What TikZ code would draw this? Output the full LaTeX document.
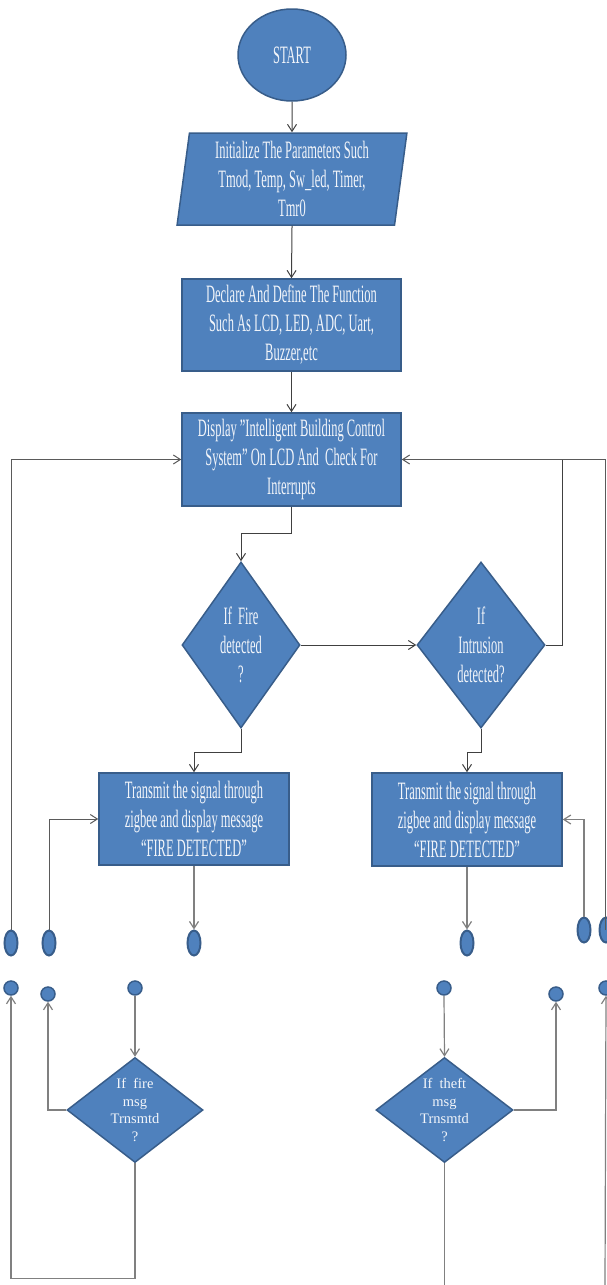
\documentclass[tikz,border=0pt]{standalone}
\usepackage{fontspec}
\setmainfont{Liberation Serif}
\newfontfamily\condfont[FakeStretch=0.5]{Liberation Serif}
\usetikzlibrary{shapes.geometric,arrows.meta}
\definecolor{fillblue}{HTML}{4F81BD}
\definecolor{edgeblue}{HTML}{385D8A}
\definecolor{darkline}{HTML}{404040}
\definecolor{midline}{HTML}{5A5A5A}
\definecolor{grayline}{HTML}{808080}
\definecolor{txtcol}{HTML}{F2F5FA}
\begin{document}
\begin{tikzpicture}[x=1pt,y=-1pt,
  shapebase/.style={fill=fillblue,draw=edgeblue,line width=1.5pt,inner sep=0pt,text=txtcol,align=center},
  bigtxt/.style={font=\condfont\fontsize{25}{29}\selectfont},
  smalltxt/.style={font=\fontsize{14.5}{17.4}\selectfont},
  procbox/.style={shapebase,rectangle,bigtxt},
  decide/.style={shapebase,diamond},
  oval/.style={shapebase,ellipse,line width=2pt,minimum width=13pt,minimum height=25pt},
  dot/.style={shapebase,circle,line width=1.5pt,minimum size=14pt},
  tip/.style={-{Straight Barb[length=7pt,width=9pt]}},
  darr/.style={draw=darkline,line width=1pt,tip},
  marr/.style={draw=midline,line width=1pt,tip},
  garr/.style={draw=grayline,line width=1.2pt,tip},
  dline/.style={draw=darkline,line width=1pt},
  gline/.style={draw=grayline,line width=1.2pt},
]
\useasboundingbox (0,0) rectangle (606,1285);

% main column
\node[shapebase,ellipse,bigtxt,minimum width=108pt,minimum height=92pt] (start) at (292,55) {START};
\node[shapebase,trapezium,trapezium left angle=83,trapezium right angle=97,trapezium stretches=true,
      minimum width=230pt,minimum height=92pt,bigtxt] (init) at (292,179)
      {Initialize The Parameters Such\\Tmod, Temp, Sw\_led, Timer,\\Tmr0};
\node[procbox,minimum width=219pt,minimum height=92pt] (decl) at (291.5,325)
      {Declare And Define The Function\\Such As LCD, LED, ADC, Uart,\\Buzzer,etc};
\node[procbox,minimum width=219pt,minimum height=93pt] (disp) at (291.5,459.5)
      {Display ”Intelligent Building Control\\System” On LCD And\ \ Check For\\Interrupts};

% decisions
\node[decide,minimum width=118pt,minimum height=166pt,
      label={[bigtxt,text=txtcol,align=center]center:If\ \ Fire\\detected\\?}] (fire) at (241,645) {};
\node[decide,minimum width=128pt,minimum height=166pt,
      label={[bigtxt,text=txtcol,align=center]center:If\\Intrusion\\detected?}] (intr) at (481,645) {};

% transmit boxes
\node[procbox,minimum width=190pt,minimum height=92pt] (tx1) at (194,819)
      {Transmit the signal through\\zigbee and display message\\“FIRE DETECTED”};
\node[procbox,minimum width=190pt,minimum height=93pt] (tx2) at (467,819.5)
      {Transmit the signal through\\zigbee and display message\\“FIRE DETECTED”};

% connector ovals
\node[oval] (e1) at (11,943) {};
\node[oval] (e2) at (49,943) {};
\node[oval] (e3) at (194,943) {};
\node[oval] (e4) at (467,943) {};
\node[oval] (e5) at (584,930) {};
\node[oval] (e6) at (606,930) {};

% connector circles
\node[dot] (c1) at (11,988) {};
\node[dot] (c2) at (48,994) {};
\node[dot] (c3) at (135,988) {};
\node[dot] (c4) at (444,988) {};
\node[dot] (c5) at (556,994) {};
\node[dot] (c6) at (606,988) {};

% message decisions
\node[decide,minimum width=136pt,minimum height=105pt,
      label={[smalltxt,text=txtcol,align=center]center:If\ \ fire\\msg\\Trnsmtd\\?}] (fmsg) at (135,1110) {};
\node[decide,minimum width=137pt,minimum height=105pt,
      label={[smalltxt,text=txtcol,align=center]center:If\ \ theft\\msg\\Trnsmtd\\?}] (tmsg) at (444.5,1110) {};

\coordinate (jr) at (562,459.5);
\coordinate (bl) at (444.5,1285);
\coordinate (br) at (605,1285);

% connectors
\draw[darr] (start.south) -- (init.north);
\draw[darr] (init.south) -- (decl.north);
\draw[darr] (decl.south) -- (disp.north);
\draw[darr] (disp.south) -- ++(0,27) -| (fire.north);
\draw[darr] (fire.east) -- (intr.west);
\draw[dline] (intr.east) -| (jr);
\draw[marr] (605,930) |- (disp.east);
\draw[marr] (e1.north) |- (disp.west);
\draw[darr] (fire.south) -- ++(0,24) -| (tx1.north);
\draw[darr] (intr.south) -- ++(0,24) -| (tx2.north);
\draw[marr] (e2.north) |- (tx1.west);
\draw[garr] (tx1.south) -- (e3.north);
\draw[garr] (tx2.south) -- (e4.north);
\draw[garr] (e5.north) |- (tx2.east);
\draw[garr] (c3.south) -- (fmsg.north);
\draw[garr] (fmsg.west) -| (c2.south);
\draw[garr] (fmsg.south) -- ++(0,115) -| (c1.south);
\draw[garr] (c4.south) -- (tmsg.north);
\draw[garr] (tmsg.east) -| (c5.south);
\draw[gline] (tmsg.south) -- (bl);
\draw[garr] (br) -- (c6.south);
\end{tikzpicture}
\end{document}
